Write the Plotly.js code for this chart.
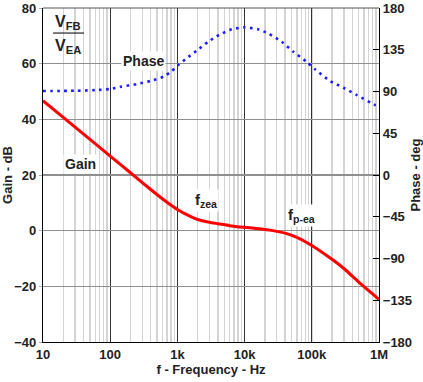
<!DOCTYPE html>
<html>
<head>
<meta charset="utf-8">
<script src="https://cdn.plot.ly/plotly-3.0.1.min.js"></script>
<style>html,body{margin:0;padding:0;background:#fff;}#chart{width:423px;height:382px;}</style>
</head>
<body>
<div id="chart"></div>
<script>
// Gain (dB) vs frequency (Hz)
const gainFreq = [10, 20, 50, 100, 200, 400, 700, 1000, 1500, 2000, 3000, 4000, 6000, 10000, 15000, 25000, 40000, 60000, 100000, 200000, 300000, 500000, 1000000];
const gainDb   = [46.7, 40.7, 32.8, 26.8, 20.8, 14.8, 10.2, 7.6, 5.3, 4.0, 3.0, 2.5, 1.8, 1.2, 0.8, 0.1, -0.9, -2.4, -5.3, -10.3, -13.6, -18.5, -24.7];
// Phase (deg) vs frequency (Hz)
const phaseFreq = [10, 30, 60, 100, 140, 250, 415, 620, 820, 1030, 1370, 1940, 2880, 4160, 6430, 9900, 15800, 22300, 35600, 53100, 84000, 112000, 187000, 295000, 466000, 871000, 1000000];
const phaseDeg  = [90.5, 90.8, 91.5, 92.7, 95, 98, 101.7, 106, 111.8, 118.6, 125.8, 134, 143.7, 150.9, 157, 159.2, 157, 152.7, 143.7, 132.9, 122, 113.9, 101.3, 94.1, 86.2, 75.5, 74];
// Axis ticks
const xTickVals = [10, 100, 1000, 10000, 100000, 1000000];
const xTickText = ['10', '100', '1k', '10k', '100k', '1M'];
const gainTicks = [-40, -20, 0, 20, 40, 60, 80];
const phaseTicks = [-180, -135, -90, -45, 0, 45, 90, 135, 180];

const FONT = 'Liberation Sans, Arial, sans-serif';
const TXT = {family: FONT, size: 13, color: '#222', weight: 'bold'};

const traces = [
  {x: gainFreq, y: gainDb, type: 'scatter', mode: 'lines', line: {color: '#ff0000', width: 3, shape: 'spline', smoothing: 0.6}, hoverinfo: 'skip'},
  {x: phaseFreq, y: phaseDeg, yaxis: 'y2', type: 'scatter', mode: 'lines', line: {color: '#1f1fff', width: 2.6, dash: '2.6px,4.4px', shape: 'spline', smoothing: 0.6}, hoverinfo: 'skip'}
];

function label(x, y, text, size, bg) {
  const a = {xref: 'paper', yref: 'paper', x: x, y: y, xanchor: 'center', yanchor: 'middle', text: text, showarrow: false,
             font: {family: FONT, size: size, color: '#222', weight: 'bold'}};
  if (bg) { a.bgcolor = '#fff'; a.borderpad = 1; }
  return a;
}

const layout = {
  width: 423, height: 382,
  margin: {l: 43, r: 44, t: 8, b: 40},
  paper_bgcolor: '#fff', plot_bgcolor: '#fff',
  showlegend: false,
  font: TXT,
  xaxis: {
    type: 'log', range: [1, 6],
    tickvals: xTickVals, ticktext: xTickText,
    showgrid: true, gridcolor: '#333', gridwidth: 1,
    minor: {dtick: 'D1', showgrid: true, gridcolor: '#d4d4d4', gridwidth: 1.4, ticks: ''},
    showline: true, linecolor: '#000', linewidth: 1.2,
    ticks: '', zeroline: false,
    tickfont: TXT,
    title: {text: 'f - Frequency - Hz', font: TXT, standoff: 4}
  },
  yaxis: {
    range: [-40, 80], tickvals: gainTicks,
    showgrid: true, gridcolor: '#8f8f8f', gridwidth: 1.2,
    showline: true, linecolor: '#000', linewidth: 1.2,
    ticks: 'outside', ticklen: 3, tickcolor: '#aaa',
    zeroline: false,
    tickfont: TXT,
    title: {text: 'Gain - dB', font: TXT, standoff: 4}
  },
  yaxis2: {
    overlaying: 'y', side: 'right',
    range: [-180, 180], tickvals: phaseTicks,
    showgrid: false, zeroline: false,
    showline: true, linecolor: '#000', linewidth: 1.2,
    ticks: 'inside', ticklen: 6, tickcolor: '#000',
    tickfont: TXT,
    title: {text: 'Phase - deg', font: TXT, standoff: 4}
  },
  shapes: [
    {type: 'line', xref: 'paper', yref: 'paper', x0: 0, x1: 1, y0: 1, y1: 1, line: {color: '#555', width: 1}},
    {type: 'line', xref: 'paper', yref: 'paper', x0: 0.030, x1: 0.122, y0: 0.925, y1: 0.925, line: {color: '#222', width: 1.2}}
  ],
  annotations: [
    label(0.074, 0.958, 'V<sub>FB</sub>', 16, false),
    label(0.074, 0.884, 'V<sub>EA</sub>', 16, false),
    label(0.298, 0.842, 'Phase', 14, true),
    label(0.113, 0.533, 'Gain', 14, true),
    label(0.485, 0.424, 'f<sub>zea</sub>', 15, true),
    label(0.770, 0.378, 'f<sub>p-ea</sub>', 15, true)
  ]
};

Plotly.newPlot('chart', traces, layout, {staticPlot: true, displayModeBar: false});
</script>
</body>
</html>
